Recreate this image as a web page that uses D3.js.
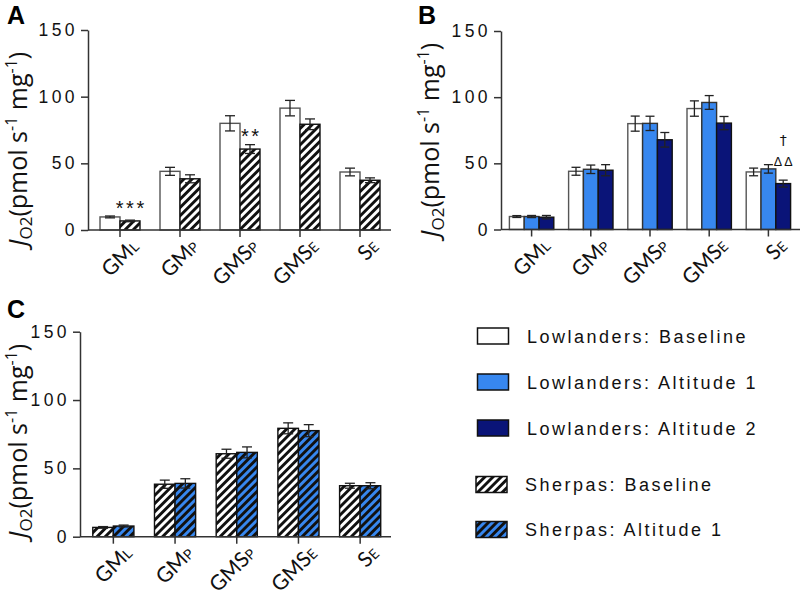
<!DOCTYPE html>
<html><head><meta charset="utf-8">
<script src="https://cdn.jsdelivr.net/npm/d3@7"></script>
<style>body{margin:0;background:#fff;} svg{display:block;}</style>
</head><body>
<svg id="chart" width="802" height="595"></svg>
<script>
// ---- data ----
const catMain = ["GM", "GM", "GMS", "GMS", "S"];
const catSub  = ["L", "P", "P", "E", "E"];
const yTicks = [0, 50, 100, 150];

const lowBase    = [9.8, 44.0, 80.0, 91.4, 43.5];
const lowBaseErr = [0.7, 3.0, 5.7, 5.8, 2.9];
const lowAlt1    = [9.8, 45.5, 80.2, 96.0, 45.8];
const lowAlt1Err = [0.8, 3.2, 5.4, 5.2, 3.2];
const lowAlt2    = [9.3, 44.8, 67.8, 80.4, 34.7];
const lowAlt2Err = [1.3, 4.2, 5.5, 5.0, 2.6];
const sherBase    = [6.8, 38.4, 60.7, 79.3, 37.3];
const sherBaseErr = [0.6, 3.0, 3.3, 4.0, 1.8];
const sherAlt1    = [7.8, 39.0, 61.7, 77.6, 37.3];
const sherAlt1Err = [0.7, 3.4, 4.0, 4.4, 2.2];

const legendLabels = ["Lowlanders: Baseline", "Lowlanders: Altitude 1", "Lowlanders: Altitude 2", "Sherpas: Baseline", "Sherpas: Altitude 1"];

// ---- styles ----
const LIGHT = "#3787ef", NAVY = "#0a1478";
const svg = d3.select("#chart");
const defs = svg.append("defs");
function hatch(id, bg) {
  const p = defs.append("pattern").attr("id", id).attr("patternUnits", "userSpaceOnUse")
    .attr("width", 5.8).attr("height", 5.8).attr("patternTransform", "rotate(45)");
  p.append("rect").attr("width", 5.8).attr("height", 5.8).attr("fill", bg);
  p.append("rect").attr("width", 2.9).attr("height", 5.8).attr("fill", "#111");
}
hatch("hatchW", "#fff");
hatch("hatchB", LIGHT);

const series = {
  lowBase:  {v: lowBase,  e: lowBaseErr,  fill: "#fff", stroke: "#555"},
  lowAlt1:  {v: lowAlt1,  e: lowAlt1Err,  fill: LIGHT, stroke: "#333"},
  lowAlt2:  {v: lowAlt2,  e: lowAlt2Err,  fill: NAVY, stroke: "#111"},
  sherBase: {v: sherBase, e: sherBaseErr, fill: "url(#hatchW)", stroke: "#111"},
  sherAlt1: {v: sherAlt1, e: sherAlt1Err, fill: "url(#hatchB)", stroke: "#111"}
};

const tickFont = "'Liberation Sans', Arial, sans-serif";
const labFont = "Lato, 'Open Sans', sans-serif";
const yLabFont = "'Open Sans', Lato, sans-serif";

function panel(cfg) {
  const g = svg.append("g");
  const y = d3.scaleLinear().domain([0, 150]).range([cfg.y0, cfg.y150]);
  const x = d3.scaleBand().domain(d3.range(5)).range(cfg.xr).paddingInner(cfg.pad).paddingOuter(cfg.pad / 2);
  const xi = d3.scaleBand().domain(d3.range(cfg.keys.length)).range([0, x.bandwidth()]);

  // bars
  cfg.keys.forEach((k, si) => {
    const s = series[k];
    const gg = g.append("g");
    gg.selectAll("rect").data(s.v).join("rect")
      .attr("x", (d, i) => x(i) + xi(si))
      .attr("y", d => y(d))
      .attr("width", xi.bandwidth())
      .attr("height", d => y(0) - y(d))
      .attr("fill", s.fill).attr("stroke", s.stroke).attr("stroke-width", 1.4);
    // error bars
    const eb = gg.selectAll("g.eb").data(s.v).join("g").attr("class", "eb");
    const cx = i => x(i) + xi(si) + xi.bandwidth() / 2;
    const cap = cfg.cap;
    eb.append("line").attr("x1", (d, i) => cx(i)).attr("x2", (d, i) => cx(i))
      .attr("y1", (d, i) => y(d - s.e[i])).attr("y2", (d, i) => y(d + s.e[i]));
    eb.append("line").attr("x1", (d, i) => cx(i) - cap).attr("x2", (d, i) => cx(i) + cap)
      .attr("y1", (d, i) => y(d + s.e[i])).attr("y2", (d, i) => y(d + s.e[i]));
    eb.append("line").attr("x1", (d, i) => cx(i) - cap).attr("x2", (d, i) => cx(i) + cap)
      .attr("y1", (d, i) => y(d - s.e[i])).attr("y2", (d, i) => y(d - s.e[i]));
    eb.selectAll("line").attr("stroke", "#222").attr("stroke-width", 1.3);
  });

  // y axis
  const ya = g.append("g").attr("transform", `translate(${cfg.ax},0)`)
    .call(d3.axisLeft(y).tickValues(yTicks).tickSize(7).tickSizeOuter(0).tickPadding(3));
  ya.select(".domain").attr("stroke", "#333").attr("stroke-width", 1.5);
  ya.selectAll(".tick line").attr("stroke", "#333").attr("stroke-width", 1.5);
  ya.selectAll(".tick text").attr("font-family", tickFont).attr("font-size", 17.5)
    .attr("letter-spacing", "3.4px").attr("fill", "#111");

  // x axis line
  g.append("line").attr("x1", cfg.ax).attr("x2", cfg.xend).attr("y1", cfg.y0).attr("y2", cfg.y0)
    .attr("stroke", "#333").attr("stroke-width", 1.5);
  g.selectAll("line.xt").data(d3.range(5)).join("line").attr("class", "xt")
    .attr("x1", i => x(i) + x.bandwidth() / 2).attr("x2", i => x(i) + x.bandwidth() / 2)
    .attr("y1", cfg.y0).attr("y2", cfg.y0 + 7).attr("stroke", "#333").attr("stroke-width", 1.5);

  // category labels
  const cl = g.selectAll("text.cat").data(d3.range(5)).join("text").attr("class", "cat")
    .attr("transform", i => `translate(${x(i) + x.bandwidth() / 2 + 20},${cfg.y0 + 18}) rotate(-45)`)
    .attr("text-anchor", "end").attr("font-family", labFont).attr("font-size", 21).attr("fill", "#111");
  cl.append("tspan").text(i => catMain[i]);
  cl.append("tspan").attr("font-size", 14).text(i => catSub[i]);

  // y label
  const yl = g.append("text")
    .attr("transform", `translate(${cfg.lx},${cfg.ly}) rotate(-90)`)
    .attr("text-anchor", "middle").attr("font-family", yLabFont).attr("font-size", 25).attr("fill", "#111");
  yl.append("tspan").attr("font-style", "italic").text("J");
  yl.append("tspan").attr("font-size", 17).attr("dy", 5).text("O2");
  yl.append("tspan").attr("dy", -5).text("(pmol s");
  yl.append("tspan").attr("font-size", 16).attr("dy", -10).text("-1");
  yl.append("tspan").attr("dy", 10).text(" mg");
  yl.append("tspan").attr("font-size", 16).attr("dy", -10).text("-1");
  yl.append("tspan").attr("dy", 10).text(")");

  // panel letter
  g.append("text").attr("x", cfg.px).attr("y", cfg.py).attr("font-family", "'Liberation Sans', Arial, sans-serif")
    .attr("font-weight", "bold").attr("font-size", 25).attr("fill", "#000").text(cfg.letter);

  return {x, y, xi};
}

const A = panel({letter: "A", px: 7, py: 24, keys: ["lowBase", "sherBase"], y0: 230, y150: 30,
  xr: [90, 390], pad: 1/3, ax: 88, xend: 391, cap: 5, lx: 27, ly: 149});
const B = panel({letter: "B", px: 418, py: 24, keys: ["lowBase", "lowAlt1", "lowAlt2"], y0: 229.5, y150: 31,
  xr: [502, 798], pad: 0.25, ax: 501, xend: 800, cap: 4.5, lx: 439, ly: 140});
const C = panel({letter: "C", px: 7, py: 318, keys: ["sherBase", "sherAlt1"], y0: 536.7, y150: 331.7,
  xr: [82.5, 391], pad: 1/3, ax: 80, xend: 391, cap: 5, lx: 27, ly: 441});

// annotations
function ann(p, cat, si, yv, txt, size, ls, font) {
  svg.append("text").attr("x", p.x(cat) + p.xi(si) + p.xi.bandwidth() / 2 + ls / 2).attr("y", p.y(yv))
    .attr("text-anchor", "middle").attr("font-family", font || tickFont).attr("font-size", size)
    .attr("letter-spacing", ls + "px").attr("fill", "#111").text(txt);
}
ann(A, 0, 1, 11, "***", 20, 2.5);
ann(A, 2, 1, 65, "**", 20, 2.5);
ann(B, 4, 2, 64, "\u2020", 14, 0, "'DejaVu Sans', sans-serif");
ann(B, 4, 2, 48, "\u0394\u0394", 12.5, 2);

// legend
const legY = [336, 382, 428, 484.5, 529.5];
const legFill = ["#fff", LIGHT, NAVY, "url(#hatchW)", "url(#hatchB)"];
const lg = svg.append("g");
legendLabels.forEach((t, i) => {
  const sher = i >= 3;
  lg.append("rect").attr("x", sher ? 476 : 477.5).attr("y", legY[i] - 8).attr("width", 31).attr("height", 16)
    .attr("fill", legFill[i]).attr("stroke", "#111").attr("stroke-width", 1.5);
  lg.append("text").attr("x", sher ? 525 : 527).attr("y", legY[i] + 6.5)
    .attr("font-family", tickFont).attr("font-size", 18).attr("letter-spacing", "2.5px")
    .attr("fill", "#111").text(t);
});
</script>
</body></html>
